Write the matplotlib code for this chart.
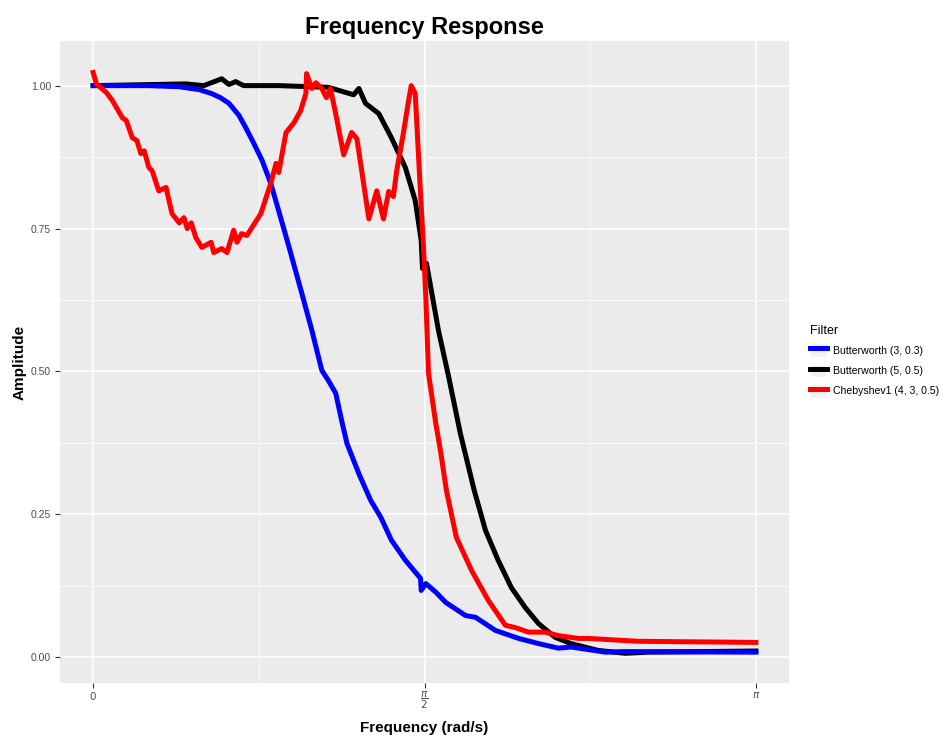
import numpy as np
import matplotlib
matplotlib.use("Agg")
import matplotlib.pyplot as plt
from matplotlib.patches import Patch
from matplotlib.lines import Line2D
from matplotlib.legend_handler import HandlerTuple

plt.rcParams['font.family'] = ['Liberation Sans', 'DejaVu Sans']
plt.rcParams['mathtext.fontset'] = 'dejavusans'

# frequencies are in units of pi
b3_freq = np.array([0.000, 0.084, 0.130, 0.160, 0.179, 0.192, 0.205, 0.220, 0.230, 0.242, 0.255,
                    0.268, 0.280, 0.295, 0.315, 0.330, 0.345, 0.355, 0.366, 0.375, 0.383,
                    0.401, 0.419, 0.434, 0.450, 0.471, 0.494, 0.495, 0.502, 0.517, 0.532,
                    0.562, 0.577, 0.607, 0.642, 0.672, 0.702, 0.721, 0.773, 0.803, 1.000])
b3_amp = np.array([1.000, 1.000, 0.998, 0.993, 0.986, 0.979, 0.969, 0.948, 0.927, 0.900, 0.869,
                   0.829, 0.781, 0.720, 0.636, 0.572, 0.502, 0.484, 0.462, 0.414, 0.374,
                   0.321, 0.274, 0.245, 0.205, 0.170, 0.138, 0.117, 0.129, 0.114, 0.096,
                   0.073, 0.070, 0.047, 0.033, 0.024, 0.016, 0.018, 0.009, 0.010, 0.009])

b5_freq = np.array([0.000, 0.140, 0.167, 0.194, 0.205, 0.215, 0.227, 0.280, 0.355, 0.393,
                    0.401, 0.411, 0.431, 0.450, 0.471, 0.486, 0.495, 0.497, 0.503, 0.521,
                    0.536, 0.554, 0.575, 0.592, 0.611, 0.631, 0.652, 0.672, 0.697, 0.721,
                    0.762, 0.803, 0.837, 1.000])
b5_amp = np.array([1.000, 1.003, 1.000, 1.012, 1.002, 1.007, 1.000, 1.000, 0.997, 0.984,
                   0.995, 0.969, 0.951, 0.909, 0.857, 0.799, 0.729, 0.680, 0.689, 0.572,
                   0.493, 0.392, 0.292, 0.222, 0.170, 0.122, 0.087, 0.059, 0.035, 0.024,
                   0.012, 0.007, 0.009, 0.011])

c1_freq = np.array([0.000, 0.005, 0.020, 0.029, 0.044, 0.050, 0.059, 0.066, 0.072, 0.077,
                    0.084, 0.089, 0.099, 0.110, 0.119, 0.130, 0.137, 0.142, 0.148, 0.155,
                    0.164, 0.178, 0.182, 0.194, 0.202, 0.212, 0.217, 0.224, 0.232, 0.253,
                    0.268, 0.276, 0.280, 0.291, 0.303, 0.313, 0.321, 0.322, 0.330, 0.336,
                    0.345, 0.352, 0.358, 0.366, 0.378, 0.390, 0.398, 0.416, 0.428, 0.438,
                    0.446, 0.453, 0.458, 0.468, 0.476, 0.480, 0.486, 0.494, 0.498, 0.502,
                    0.506, 0.517, 0.524, 0.533, 0.548, 0.571, 0.596, 0.622, 0.637, 0.657,
                    0.682, 0.702, 0.732, 0.747, 0.822, 1.000])
c1_amp = np.array([1.023, 1.003, 0.988, 0.974, 0.944, 0.939, 0.909, 0.904, 0.881, 0.886,
                   0.857, 0.851, 0.816, 0.822, 0.776, 0.760, 0.769, 0.750, 0.760, 0.734,
                   0.717, 0.726, 0.708, 0.715, 0.708, 0.747, 0.726, 0.741, 0.738, 0.776,
                   0.829, 0.864, 0.848, 0.918, 0.935, 0.956, 0.986, 1.021, 0.995, 1.005,
                   0.995, 0.979, 0.995, 0.951, 0.879, 0.918, 0.907, 0.767, 0.816, 0.767,
                   0.815, 0.806, 0.851, 0.916, 0.974, 1.000, 0.986, 0.811, 0.729, 0.629,
                   0.497, 0.409, 0.362, 0.292, 0.210, 0.152, 0.100, 0.056, 0.052, 0.044,
                   0.044, 0.038, 0.033, 0.033, 0.028, 0.026])

labels = ['Butterworth (3, 0.3)', 'Butterworth (5, 0.5)', 'Chebyshev1 (4, 3, 0.5)']
colors = ['blue', 'black', 'red']

fig = plt.figure(figsize=(9.42, 7.38), dpi=100)
ax = fig.add_axes([0.0637, 0.0745, 0.7739, 0.8699])
ax.set_facecolor('#EBEBEB')
for s in ax.spines.values():
    s.set_visible(False)

lw = 3.6
ax.plot(b5_freq * np.pi, b5_amp, color='black', lw=lw, zorder=3, solid_joinstyle='round')
ax.plot(b3_freq * np.pi, b3_amp, color='blue', lw=lw, zorder=4, solid_joinstyle='round')
ax.plot(c1_freq * np.pi, c1_amp, color='red', lw=lw, zorder=5, solid_joinstyle='round')

ax.set_xlim(-0.05 * np.pi, 1.05 * np.pi)
ax.set_ylim(-0.045, 1.078)
ax.set_xticks([0, np.pi / 2, np.pi])
ax.set_xticklabels(['$0$', r'$\dfrac{\pi}{2}$', r'$\pi$'], va='top')
ax.set_xticks([np.pi / 4, 3 * np.pi / 4], minor=True)
ax.set_yticks([0, 0.25, 0.5, 0.75, 1.0])
ax.set_yticklabels(['0.00', '0.25', '0.50', '0.75', '1.00'])
ax.set_yticks([0.125, 0.375, 0.625, 0.875], minor=True)
ax.grid(which='major', color='white', lw=1.1, zorder=0)
ax.grid(which='minor', color='white', lw=0.55, zorder=0)
ax.set_axisbelow(True)
ax.tick_params(which='major', length=3.5, width=0.8, color='#333333',
               labelcolor='#4D4D4D', labelsize=7.5, pad=3)
ax.tick_params(axis='x', which='major', pad=1.5)
ax.tick_params(which='minor', length=0)

ax.set_title('Frequency Response', fontsize=17, fontweight='bold', pad=5)
ax.set_xlabel('Frequency (rad/s)', fontsize=11, fontweight='bold', labelpad=7)
ax.set_ylabel('Amplitude', fontsize=11, fontweight='bold', labelpad=3)

handles = [(Patch(facecolor='#F2F2F2', edgecolor='white'), Line2D([], [], color=c, lw=lw))
           for c in colors]
leg = fig.legend(handles, labels, title='Filter', loc='upper left',
                 bbox_to_anchor=(0.855, 0.566), frameon=False, fontsize=7.6,
                 title_fontsize=9, handlelength=1.6, handleheight=1.6,
                 labelspacing=0.65, handletextpad=0.6, borderaxespad=0,
                 handler_map={tuple: HandlerTuple(ndivide=1, pad=0)})
leg._legend_box.align = 'left'

fig.savefig('out.png', dpi=100)
